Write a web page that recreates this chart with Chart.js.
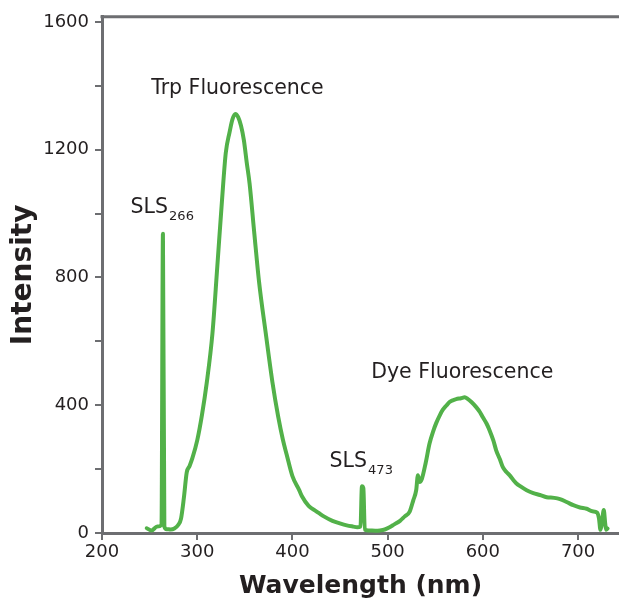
<!DOCTYPE html>
<html><head><meta charset="utf-8">
<script src="https://cdn.jsdelivr.net/npm/chart.js@4/dist/chart.umd.min.js"></script>
<style>html,body{margin:0;padding:0;background:#fff}#wrap{width:619px;height:605px}</style>
</head><body><div id="wrap"><canvas id="c" width="619" height="605"></canvas></div>
<script>
// Emission spectrum
const wavelengths = [247,252,258,262.5,264,265.5,268,272,276,280,283,286,289,292,295,300,305,310,316,321,326,330,334,337,340,343,346,349,352,355,360,365,372,379,385,390,394,400,407,410,417,425,428,433,442,449,457,464,468,471.5,473,474.5,476,480,487,492,497,502,507,513,518,523,527,530,531.8,533.5,536,540,544,548,551,555,558,562,565,569,572,577,581,584,588,593,597,600,604,607,611,614,618,621,625,628,632,635,640,646,653,660,667,675,681,688,695,702,709,715,720,722,723.5,725,727,728.5,729.5,731];
const intensity   = [15,8,20,25,937,20,12,11,14,25,45,110,190,210,235,290,370,470,625,830,1040,1190,1255,1295,1312,1302,1275,1230,1160,1094,937,785,625,472,365,292,245,178,135,115,85,68,62,52,38,31,24,20,18,20,146,140,10,8,7,8,11,18,27,38,52,66,103,134,181,160,170,220,280,320,344,370,386,400,410,416,419,422,425,420,410,394,378,362,342,322,290,259,230,206,190,181,166,156,145,134,125,119,112,110,106,97,87,80,76,68,64,45,10,30,72,30,10,14];

const xTicks = [200,300,400,500,600,700];
const yTicks = [0,400,800,1200,1600];
const yMinorTicks = [200,600,1000,1400];
const xRange = [200,743];
const yRange = [0,1616];
const xTitle = 'Wavelength (nm)';
const yTitle = 'Intensity';
const labelTexts = ['Trp Fluorescence','SLS','SLS','Dye Fluorescence'];
const labelSubs  = ['','266','473',''];
const labelAtNm  = [340,230,439,576];
const labelAtInt = [1391,1019,222,503];
const labelAlign = ['center','left','left','center'];

const AXIS = '#6d6e71';
const TEXT = '#231f20';
const GREEN = '#52b149';
const FONT = "'DejaVu Sans', sans-serif";

const labelsPlugin = {
  id: 'peakLabels',
  afterDatasetsDraw(chart) {
    const {ctx, scales:{x, y}} = chart;
    ctx.save();
    ctx.fillStyle = TEXT;
    ctx.textBaseline = 'middle';
    labelTexts.forEach((t, i) => {
      const px = x.getPixelForValue(labelAtNm[i]);
      const py = y.getPixelForValue(labelAtInt[i]);
      ctx.font = "20px " + FONT;
      const w = ctx.measureText(t).width;
      ctx.font = "13px " + FONT;
      const ws = labelSubs[i] ? ctx.measureText(labelSubs[i]).width + 1 : 0;
      let start = labelAlign[i] === 'center' ? px - (w + ws) / 2 : px;
      ctx.textAlign = 'left';
      ctx.font = "20.5px " + FONT;
      ctx.fillText(t, start, py);
      if (labelSubs[i]) {
        ctx.font = "13px " + FONT;
        ctx.fillText(labelSubs[i], start + w + 2, py + 9);
      }
    });
    ctx.restore();
  },
  afterDraw(chart) {
    const {ctx, chartArea} = chart;
    ctx.save();
    ctx.strokeStyle = AXIS;
    ctx.lineWidth = 3;
    ctx.beginPath();
    ctx.moveTo(chartArea.left - 1.5, chartArea.top);
    ctx.lineTo(chartArea.right, chartArea.top);
    ctx.stroke();
    ctx.restore();
  }
};

new Chart(document.getElementById('c'), {
  type: 'line',
  data: {
    datasets: [{
      data: wavelengths.map((w, i) => ({x: w, y: intensity[i]})),
      borderColor: GREEN,
      borderWidth: 4,
      pointRadius: 0,
      tension: 0,
      cubicInterpolationMode: 'monotone',
      borderJoinStyle: 'round',
      borderCapStyle: 'round',
      fill: false
    }]
  },
  options: {
    responsive: false,
    devicePixelRatio: 1,
    animation: false,
    layout: {padding: {top: 15, right: 0, bottom: 0, left: 0}},
    plugins: {legend: {display: false}, tooltip: {enabled: false}},
    scales: {
      x: {
        type: 'linear',
        position: 'bottom',
        min: xRange[0], max: xRange[1],
        afterBuildTicks: s => { s.ticks = xTicks.map(v => ({value: v})); },
        afterFit: s => { s.height = 72; },
        grid: {drawOnChartArea: false, drawTicks: true, tickLength: 7, color: AXIS, lineWidth: 2},
        border: {color: AXIS, width: 3},
        ticks: {font: {family: FONT, size: 18}, color: TEXT, padding: 2, maxRotation: 0},
        title: {display: true, text: xTitle, color: TEXT, font: {family: FONT, size: 25, weight: 'bold'}, padding: {top: 0, bottom: 4}}
      },
      y: {
        type: 'linear',
        min: yRange[0], max: yRange[1],
        afterBuildTicks: s => { s.ticks = yTicks.concat(yMinorTicks).sort((a, b) => a - b).map(v => ({value: v})); },
        afterFit: s => { s.width = 102; },
        grid: {drawOnChartArea: false, drawTicks: true, tickLength: 7, color: AXIS, lineWidth: 2},
        border: {color: AXIS, width: 3},
        ticks: {font: {family: FONT, size: 18}, color: TEXT, padding: 6,
          callback: v => yTicks.includes(v) ? String(v) : ''},
        title: {display: true, text: yTitle, color: TEXT, font: {family: FONT, size: 28, weight: 'bold'}, padding: {top: 7, bottom: 0}}
      }
    }
  },
  plugins: [labelsPlugin]
});
</script>
</body></html>
